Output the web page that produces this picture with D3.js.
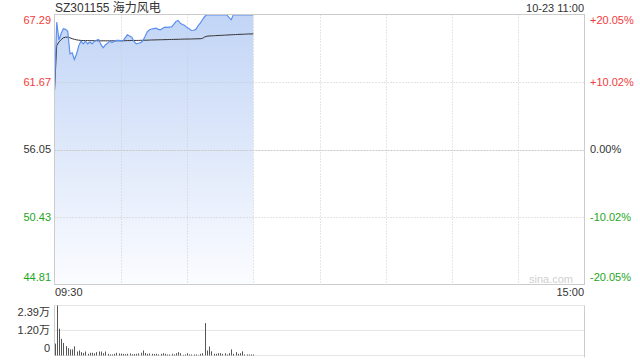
<!DOCTYPE html>
<html>
<head>
<meta charset="utf-8">
<script src="https://cdn.jsdelivr.net/npm/d3@7"></script>
<style>
  body { margin: 0; background: #fff; }
  text { font-family: "Liberation Sans", Arial, "Noto Sans CJK SC", sans-serif; }
</style>
</head>
<body>
<div id="chart"></div>
<script>
document.addEventListener("DOMContentLoaded", function() {

// precio por minuto, 09:30 - 11:00
const prices = [
  60.96, 66.65, 65.18, 65.70, 66.10, 66.05, 65.90, 64.02, 64.10, 63.54,
  64.00, 64.70, 65.07, 64.85, 65.07, 64.85, 65.00, 64.85, 65.05, 65.15,
  65.21, 64.80, 64.52, 64.75, 64.90, 65.07, 64.95, 65.05, 65.13, 65.13,
  65.12, 65.07, 65.35, 65.60, 65.50, 65.40, 65.05, 64.85, 64.90, 64.95,
  65.10, 65.45, 65.85, 66.02, 66.08, 66.12, 66.15, 66.05, 66.02, 66.15,
  66.24, 66.22, 66.24, 66.26, 66.46, 66.70, 66.79, 66.55, 66.46, 66.37,
  66.20, 66.10, 65.96, 65.98, 66.05, 66.35, 66.57, 66.85, 67.12, 67.26,
  67.26, 67.26, 67.26, 67.26, 67.26, 67.26, 67.26, 67.26, 67.26, 67.05,
  66.85, 67.26, 67.26, 67.26, 67.26, 67.26, 67.26, 67.26, 67.26, 67.26,
  67.26
];

// precio medio
const avgPrices = [
  60.96, 64.70, 65.00, 65.20, 65.35, 65.40, 65.40, 65.35, 65.28, 65.22,
  65.18, 65.15, 65.13, 65.12, 65.12, 65.12, 65.11, 65.11, 65.11, 65.11,
  65.10, 65.10, 65.10, 65.10, 65.10, 65.10, 65.10, 65.10, 65.10, 65.10,
  65.10, 65.11, 65.11, 65.12, 65.12, 65.13, 65.13, 65.13, 65.13, 65.14,
  65.14, 65.15, 65.15, 65.16, 65.17, 65.17, 65.18, 65.18, 65.19, 65.19,
  65.20, 65.20, 65.21, 65.21, 65.22, 65.22, 65.23, 65.23, 65.24, 65.24,
  65.25, 65.25, 65.25, 65.26, 65.26, 65.27, 65.27, 65.30, 65.42, 65.48,
  65.50, 65.51, 65.52, 65.53, 65.54, 65.55, 65.56, 65.57, 65.58, 65.59,
  65.60, 65.61, 65.62, 65.63, 65.64, 65.64, 65.65, 65.66, 65.67, 65.67,
  65.68
];

// volumen (万)
const volumes = [
  0.57, 2.39, 1.28, 0.80, 0.60, 0.45, 0.35, 0.29, 0.29, 0.44,
  0.19, 0.24, 0.16, 0.12, 0.19, 0.08, 0.13, 0.13, 0.10, 0.16,
  0.19, 0.19, 0.11, 0.19, 0.08, 0.05, 0.05, 0.08, 0.13, 0.10,
  0.09, 0.08, 0.06, 0.08, 0.10, 0.06, 0.07, 0.08, 0.10, 0.13,
  0.24, 0.12, 0.08, 0.10, 0.08, 0.07, 0.08, 0.05, 0.08, 0.11,
  0.08, 0.05, 0.05, 0.08, 0.05, 0.11, 0.16, 0.11, 0.03, 0.05,
  0.11, 0.05, 0.05, 0.05, 0.05, 0.02, 0.08, 0.11, 1.55, 0.24,
  0.43, 0.20, 0.08, 0.08, 0.11, 0.11, 0.08, 0.11, 0.05, 0.11,
  0.29, 0.08, 0.16, 0.08, 0.11, 0.20, 0.05, 0.05, 0.05, 0.05,
  0.05
];

const priceTicks = [67.29, 61.67, 56.05, 50.43, 44.81];
const pctTicks = ["+20.05%", "+10.02%", "0.00%", "-10.02%", "-20.05%"];
const volTicks = [2.39, 1.20, 0];
const volTickLabels = ["2.39万", "1.20万", "0"];
const gridMinutes = [30, 60, 90, 120, 150, 180, 210];
const timeLabels = ["09:30", "15:00"];
const title = "SZ301155 海力风电";
const stamp = "10-23 11:00";

const width = 640, height = 360;
const left = 54.5, right = 584.5;
const top = 14.5, bottom = 284.5;
const vTop = 305.5, vBottom = 355.5;

const red = "#f23a3a", green = "#23a623", dark = "#333";

const x = d3.scaleLinear().domain([0, 240]).range([left, right]);
const y = d3.scaleLinear().domain([44.81, 67.29]).range([bottom, top]);
const yv = d3.scaleLinear().domain([0, 2.39]).range([vBottom, vTop]);

const svg = d3.select("#chart").append("svg")
  .attr("width", width)
  .attr("height", height);

// degradado del area
const grad = svg.append("defs").append("linearGradient")
  .attr("id", "fillGrad")
  .attr("gradientUnits", "userSpaceOnUse")
  .attr("x1", 0).attr("y1", top).attr("x2", 0).attr("y2", bottom);
grad.append("stop").attr("offset", "0%").attr("stop-color", "#c2d5f6");
grad.append("stop").attr("offset", "100%").attr("stop-color", "#fbfcff");

// area
const idx = d3.range(prices.length);
svg.append("path")
  .datum(idx)
  .attr("fill", "url(#fillGrad)")
  .attr("d", d3.area().x(i => x(i)).y0(bottom).y1(i => y(prices[i])));

// rejilla (encima del area)
svg.append("g").selectAll("line")
  .data(priceTicks.slice(1, 4))
  .join("line")
  .attr("x1", left).attr("x2", right)
  .attr("y1", d => Math.round(y(d)) + 0.5).attr("y2", d => Math.round(y(d)) + 0.5)
  .attr("stroke", "#c8c8c8")
  .attr("stroke-dasharray", d => d === 56.05 ? "2,1" : "1,2");

svg.append("g").selectAll("line")
  .data(gridMinutes)
  .join("line")
  .attr("x1", d => Math.round(x(d)) + 0.5).attr("x2", d => Math.round(x(d)) + 0.5)
  .attr("y1", top).attr("y2", bottom)
  .attr("stroke", "#ccc")
  .attr("stroke-dasharray", "1,2");

// lineas
svg.append("path")
  .datum(idx)
  .attr("fill", "none")
  .attr("stroke", "#333")
  .attr("stroke-width", 1)
  .attr("d", d3.line().x(i => x(i)).y(i => y(avgPrices[i])));

svg.append("path")
  .datum(idx)
  .attr("fill", "none")
  .attr("stroke", "#5b8ff0")
  .attr("stroke-width", 1.2)
  .attr("d", d3.line().x(i => x(i)).y(i => y(prices[i])));

// marco
svg.append("rect")
  .attr("x", left).attr("y", top)
  .attr("width", right - left).attr("height", bottom - top)
  .attr("fill", "none").attr("stroke", "#ccc");

// etiquetas eje izquierdo / derecho
const labelY = (d, i) => i === 0 ? y(d) + 6 : i === priceTicks.length - 1 ? y(d) - 7 : y(d);
const tickColor = (d, i) => i < 2 ? red : i === 2 ? dark : green;

svg.append("g").selectAll("text")
  .data(priceTicks)
  .join("text")
  .attr("x", 51).attr("y", labelY)
  .attr("dy", "0.35em")
  .attr("text-anchor", "end")
  .attr("font-size", "11px")
  .attr("fill", tickColor)
  .text(d => d.toFixed(2));

svg.append("g").selectAll("text")
  .data(priceTicks)
  .join("text")
  .attr("x", 590).attr("y", labelY)
  .attr("dy", "0.35em")
  .attr("text-anchor", "start")
  .attr("font-size", "11px")
  .attr("fill", tickColor)
  .text((d, i) => pctTicks[i]);

// titulo
svg.append("text")
  .attr("x", 55).attr("y", 12)
  .attr("font-size", "12px")
  .attr("fill", dark)
  .text(title);

svg.append("text")
  .attr("x", 584).attr("y", 12)
  .attr("text-anchor", "end")
  .attr("font-size", "11px")
  .attr("fill", dark)
  .text(stamp);

svg.append("text")
  .attr("x", 573).attr("y", 283)
  .attr("text-anchor", "end")
  .attr("font-size", "11px")
  .attr("fill", "#d0d0d0")
  .text("sina.com");

// horas
svg.append("g").selectAll("text")
  .data(timeLabels)
  .join("text")
  .attr("x", (d, i) => i === 0 ? 55 : 584)
  .attr("y", 296)
  .attr("text-anchor", (d, i) => i === 0 ? "start" : "end")
  .attr("font-size", "11px")
  .attr("fill", dark)
  .text(d => d);

// volumen
svg.append("g").selectAll("line")
  .data(volTicks)
  .join("line")
  .attr("x1", left).attr("x2", right)
  .attr("y1", d => yv(d)).attr("y2", d => yv(d))
  .attr("stroke", "#ccc")
  .attr("stroke-dasharray", "1,1");

svg.append("line")
  .attr("x1", left).attr("x2", left).attr("y1", vTop).attr("y2", vBottom)
  .attr("stroke", "#ccc");
svg.append("line")
  .attr("x1", right).attr("x2", right).attr("y1", vTop).attr("y2", vBottom + 2)
  .attr("stroke", "#ccc");

svg.append("g").selectAll("rect")
  .data(volumes)
  .join("rect")
  .attr("x", (d, i) => Math.round(x(i)))
  .attr("y", d => yv(d))
  .attr("width", 1)
  .attr("height", d => vBottom - yv(d))
  .attr("fill", "#555");

svg.append("g").selectAll("text")
  .data(volTicks)
  .join("text")
  .attr("x", 50)
  .attr("y", (d, i) => i === 0 ? yv(d) + 7 : i === 2 ? yv(d) - 7 : yv(d))
  .attr("dy", "0.35em")
  .attr("text-anchor", "end")
  .attr("font-size", "11px")
  .attr("fill", dark)
  .text((d, i) => volTickLabels[i]);

});
</script>
</body>
</html>
